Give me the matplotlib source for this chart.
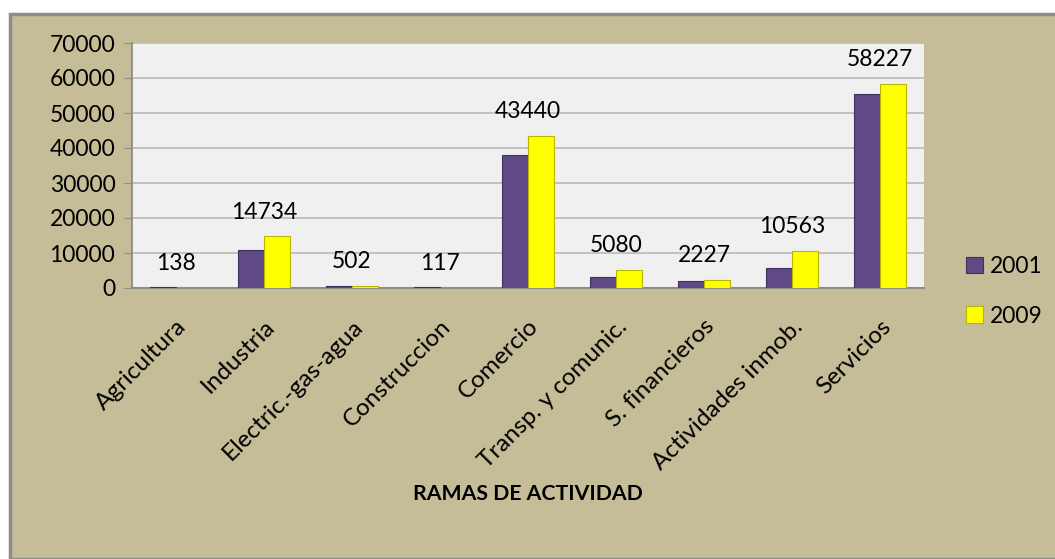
import matplotlib.pyplot as plt
import numpy as np
from matplotlib.patches import Rectangle

plt.rcParams['font.family'] = ['Lato', 'DejaVu Sans']

ramas = ['Agricultura', 'Industria', 'Electric.-gas-agua', 'Construccion', 'Comercio',
         'Transp. y comunic.', 'S. financieros', 'Actividades inmob.', 'Servicios']
v2001 = [150, 10800, 550, 420, 37900, 3100, 1900, 5700, 55300]
v2009 = [138, 14734, 502, 117, 43440, 5080, 2227, 10563, 58227]

bg = '#C4BD97'
fig = plt.figure(figsize=(10.55, 5.59), dpi=100, facecolor='white')
fig.patches.append(Rectangle((10 / 1055, 0), 1.0, 1 - 14 / 559, transform=fig.transFigure,
                             facecolor=bg, edgecolor='#8C8C8C', linewidth=2.5, zorder=-10))

ax = fig.add_axes([132 / 1055, 1 - 288 / 559, (924 - 132) / 1055, (288 - 43) / 559])
ax.set_facecolor('#F0F0F0')

x = np.arange(len(ramas))
w = 0.29
ax.bar(x - w / 2, v2001, w, color='#5F4A85', edgecolor='#3F3060', linewidth=0.8, label='2001', zorder=3)
ax.bar(x + w / 2, v2009, w, color='#FFFF00', edgecolor='#B8B800', linewidth=0.8, label='2009', zorder=3)

for i, v in enumerate(v2009):
    ax.annotate(str(v), (x[i], v), xytext=(0, 10), textcoords='offset points',
                ha='center', va='bottom', fontsize=16.5)

ax.set_xlim(-0.5, len(ramas) - 0.5)
ax.set_ylim(0, 70000)
ax.set_yticks(range(0, 70001, 10000))
ax.yaxis.grid(True, color='#BEBEBE', linewidth=1.3)
ax.set_axisbelow(True)
for s in ['top', 'right']:
    ax.spines[s].set_visible(False)
ax.spines['left'].set_color('#8C8C8C')
ax.spines['bottom'].set_color('#8C8C8C')
ax.spines['left'].set_linewidth(1.3)
ax.spines['bottom'].set_linewidth(1.5)
ax.tick_params(axis='y', labelsize=16.5, color='#8C8C8C', length=6, pad=6)
ax.tick_params(axis='x', length=0, labelsize=17.5, pad=20)
ax.set_xticks(x)
ax.set_xticklabels(ramas, rotation=45, ha='right', rotation_mode='anchor')

ax.set_xlabel('RAMAS DE ACTIVIDAD', fontsize=15.3, fontweight='bold')
ax.xaxis.set_label_coords(0.5, -0.8)

fig.legend(*ax.get_legend_handles_labels(), loc='upper left',
           bbox_to_anchor=(966 / 1055, 1 - 256 / 559), frameon=False, fontsize=16.5,
           handlelength=0.75, handleheight=0.75, labelspacing=1.25, handletextpad=0.3,
           borderaxespad=0, borderpad=0)

fig.savefig('out.png', dpi=100, facecolor=fig.get_facecolor())
